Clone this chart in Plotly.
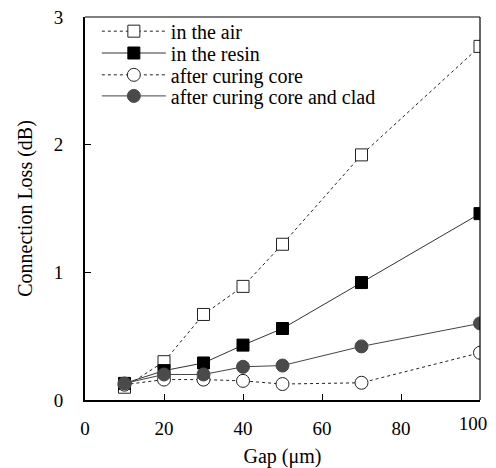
import plotly.graph_objects as go

gap = [10, 20, 30, 40, 50, 70, 100]
air = [0.10, 0.30, 0.67, 0.89, 1.22, 1.92, 2.77]
resin = [0.13, 0.23, 0.29, 0.43, 0.56, 0.92, 1.46]
core = [0.12, 0.16, 0.16, 0.15, 0.125, 0.135, 0.37]
clad = [0.13, 0.20, 0.20, 0.26, 0.27, 0.42, 0.60]

names = ["in the air", "in the resin", "after curing core", "after curing core and clad"]
x_ticks = [0, 20, 40, 60, 80, 100]
y_ticks = [0, 1, 2, 3]
x_range = [0, 100]

font = "Liberation Serif, Times New Roman, serif"

fig = go.Figure()
fig.add_trace(go.Scatter(x=gap, y=air, name=names[0], mode="lines+markers", legend="legend",
                         line=dict(color="#222", width=1, dash="dot"),
                         marker=dict(symbol="square", size=12, color="white",
                                     line=dict(color="#222", width=1))))
fig.add_trace(go.Scatter(x=gap, y=resin, name=names[1], mode="lines+markers", legend="legend2",
                         line=dict(color="#333", width=1),
                         marker=dict(symbol="square", size=12, color="black",
                                     line=dict(color="black", width=1))))
fig.add_trace(go.Scatter(x=gap, y=core, name=names[2], mode="lines+markers", legend="legend3",
                         line=dict(color="#222", width=1, dash="dot"),
                         marker=dict(symbol="circle", size=13, color="white",
                                     line=dict(color="#222", width=1))))
fig.add_trace(go.Scatter(x=gap, y=clad, name=names[3], mode="lines+markers", legend="legend4",
                         xaxis="x2",
                         line=dict(color="#444", width=1),
                         marker=dict(symbol="circle", size=13, color="#4a4a4a",
                                     line=dict(color="#4a4a4a", width=1))))

tick_style = dict(ticks="inside", ticklen=6, tickcolor="black", tickwidth=1,
                  showgrid=False, zeroline=False, automargin=False,
                  ticklabeloverflow="allow",
                  tickfont=dict(family=font, size=19, color="black"))


def leg(y):
    return dict(x=0.03, y=y, xanchor="left", yanchor="middle",
                bgcolor="rgba(0,0,0,0)", font=dict(family=font, size=20),
                itemwidth=64)


fig.update_layout(
    width=488, height=460,
    margin=dict(l=77, r=16, t=9, b=68, autoexpand=False),
    paper_bgcolor="white", plot_bgcolor="white",
    font=dict(family=font, color="black"),
    xaxis=dict(range=x_range, tickvals=x_ticks[:-1], ticklabelstandoff=10,
               showline=True, linecolor="black", linewidth=2,
               title=dict(text="Gap (μm)", font=dict(family=font, size=20), standoff=17),
               **tick_style),
    xaxis2=dict(range=x_range, tickvals=x_ticks[-1:], ticklabelstandoff=10,
                ticklabelshift=-7, overlaying="x", anchor="y", side="bottom",
                showline=False, **tick_style),
    yaxis=dict(range=[0, 3], tickvals=y_ticks, ticklabelstandoff=16,
               showline=True, linecolor="black", linewidth=2,
               title=dict(text="Connection Loss (dB)", font=dict(family=font, size=20), standoff=16),
               **tick_style),
    legend=leg(0.963),
    legend2=leg(0.906),
    legend3=leg(0.849),
    legend4=leg(0.794),
    showlegend=True,
    shapes=[
        dict(type="line", xref="paper", yref="paper", x0=0, x1=1, y0=1, y1=1,
             line=dict(color="black", width=1.2)),
        dict(type="line", xref="paper", yref="paper", x0=1, x1=1, y0=0, y1=1,
             line=dict(color="black", width=1.2)),
    ],
)

fig.write_html("out.html")
